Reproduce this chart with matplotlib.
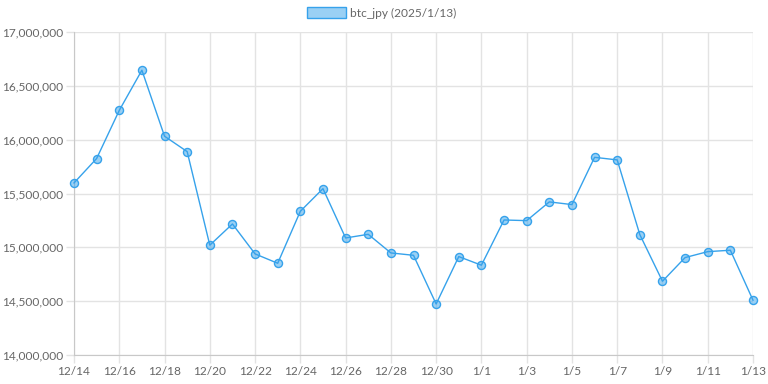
import matplotlib.pyplot as plt
from matplotlib.patches import Patch
from matplotlib.ticker import FuncFormatter

plt.rcParams['font.family'] = ['Lato', 'DejaVu Sans']

# data
dates = ['12/14', '12/15', '12/16', '12/17', '12/18', '12/19', '12/20', '12/21',
         '12/22', '12/23', '12/24', '12/25', '12/26', '12/27', '12/28', '12/29',
         '12/30', '12/31', '1/1', '1/2', '1/3', '1/4', '1/5', '1/6', '1/7',
         '1/8', '1/9', '1/10', '1/11', '1/12', '1/13']
prices = [15598000, 15825000, 16272000, 16645000, 16032000, 15889000, 15020000,
          15217000, 14939000, 14852000, 15335000, 15545000, 15087000, 15121000,
          14948000, 14926000, 14474000, 14914000, 14834000, 15254000, 15248000,
          15422000, 15397000, 15836000, 15812000, 15118000, 14685000, 14905000,
          14960000, 14973000, 14509000]
label = 'btc_jpy (2025/1/13)'

blue = '#36a2eb'
fill = (54 / 255, 162 / 255, 235 / 255, 0.5)
grid_c = '#e3e3e3'
txt_c = '#666666'

fig = plt.figure(figsize=(7.68, 3.84), dpi=100)
ax = fig.add_axes([74 / 768, 1 - 355 / 384, (753 - 74) / 768, (355 - 32) / 384])

x = list(range(len(dates)))
ax.plot(x, prices, color=blue, lw=1, marker='o', ms=5.8,
        mfc=fill, mec=blue, mew=1, zorder=3, clip_on=False)

ax.set_xlim(0, len(dates) - 1)
ax.set_ylim(14000000, 17000000)
ax.set_xticks(x[::2])
ax.set_xticklabels(dates[::2])
ax.set_yticks(range(14000000, 17000001, 500000))
ax.yaxis.set_major_formatter(FuncFormatter(lambda v, p: f'{int(v):,}'))

ax.grid(True, color=grid_c, lw=1)
ax.set_axisbelow(True)
for s in ['top', 'right']:
    ax.spines[s].set_visible(False)
ax.spines['left'].set_color('#c8c8c8')
ax.spines['bottom'].set_color('#c8c8c8')
ax.tick_params(axis='both', colors=grid_c, labelcolor=txt_c, labelsize=8.6,
               length=6, width=1, pad=2)

handle = Patch(facecolor=fill, edgecolor=blue, lw=1)
fig.legend([handle], [label], loc='upper center', bbox_to_anchor=(0.497, 1.01),
           frameon=False, fontsize=8.6, labelcolor=txt_c, handlelength=3.3,
           handleheight=1.1, handletextpad=0.35)

fig.savefig('out.png', dpi=100, facecolor='white')
